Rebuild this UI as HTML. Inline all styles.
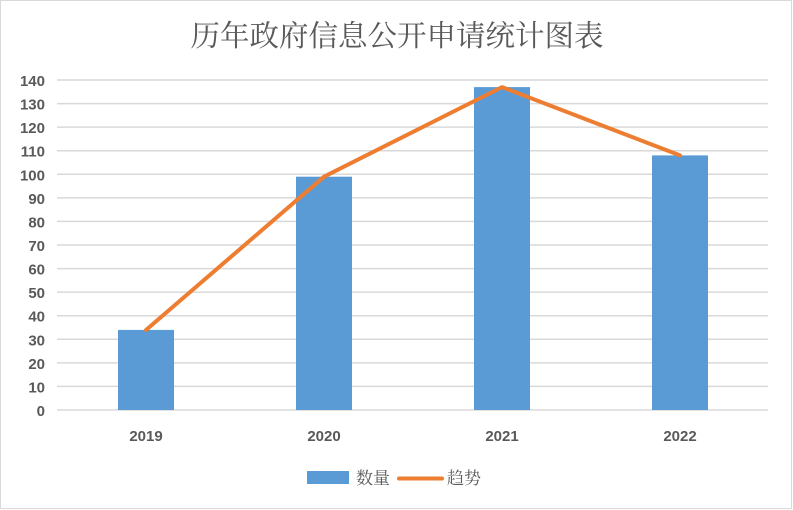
<!DOCTYPE html>
<html><head><meta charset="utf-8"><style>
body{margin:0;background:#fff}
svg{display:block}
</style></head><body>
<svg width="793" height="510" xmlns="http://www.w3.org/2000/svg">
<rect x="0.5" y="0.5" width="791" height="508" fill="#fff" stroke="#d9d9d9"/>
<text x="397" y="46" text-anchor="middle" font-family="'Noto Serif CJK SC','Noto Sans CJK SC',serif" font-size="29.5" fill="#595959">历年政府信息公开申请统计图表</text>
<g stroke="#d9d9d9" stroke-width="1.5">
<line x1="57" x2="768" y1="80" y2="80"/><line x1="57" x2="768" y1="103.6" y2="103.6"/><line x1="57" x2="768" y1="127.1" y2="127.1"/><line x1="57" x2="768" y1="150.7" y2="150.7"/><line x1="57" x2="768" y1="174.3" y2="174.3"/><line x1="57" x2="768" y1="197.9" y2="197.9"/><line x1="57" x2="768" y1="221.4" y2="221.4"/><line x1="57" x2="768" y1="245" y2="245"/><line x1="57" x2="768" y1="268.6" y2="268.6"/><line x1="57" x2="768" y1="292.1" y2="292.1"/><line x1="57" x2="768" y1="315.7" y2="315.7"/><line x1="57" x2="768" y1="339.3" y2="339.3"/><line x1="57" x2="768" y1="362.9" y2="362.9"/><line x1="57" x2="768" y1="386.4" y2="386.4"/><line x1="57" x2="768" y1="410" y2="410"/>
</g>
<g font-family="'Liberation Sans',sans-serif" font-size="15" font-weight="bold" fill="#595959" text-anchor="end">
<text x="45" y="86">140</text><text x="45" y="109.6">130</text><text x="45" y="133.1">120</text><text x="45" y="156.7">110</text><text x="45" y="180.3">100</text><text x="45" y="203.9">90</text><text x="45" y="227.4">80</text><text x="45" y="251">70</text><text x="45" y="274.6">60</text><text x="45" y="298.1">50</text><text x="45" y="321.7">40</text><text x="45" y="345.3">30</text><text x="45" y="368.9">20</text><text x="45" y="392.4">10</text><text x="45" y="416">0</text>
</g>
<g fill="#5b9bd5">
<rect x="118" y="329.9" width="56" height="80.1"/>
<rect x="296" y="176.7" width="56" height="233.3"/>
<rect x="474" y="87.1" width="56" height="322.9"/>
<rect x="652" y="155.4" width="56" height="254.6"/>
</g>
<polyline points="146,330 324,176.7 502,87.1 680,155.4" fill="none" stroke="#ed7d31" stroke-width="4" stroke-linejoin="round" stroke-linecap="round"/>
<g font-family="'Liberation Sans',sans-serif" font-size="15" font-weight="bold" fill="#595959" text-anchor="middle">
<text x="146" y="441">2019</text><text x="324" y="441">2020</text><text x="502" y="441">2021</text><text x="680" y="441">2022</text>
</g>
<rect x="307" y="471" width="42" height="13" fill="#5b9bd5"/>
<text x="356" y="484" font-family="'Noto Serif CJK SC','Noto Sans CJK SC',serif" font-size="17" fill="#595959">数量</text>
<line x1="399" x2="442" y1="478.5" y2="478.5" stroke="#ed7d31" stroke-width="4" stroke-linecap="round"/>
<text x="447" y="484" font-family="'Noto Serif CJK SC','Noto Sans CJK SC',serif" font-size="17" fill="#595959">趋势</text>
</svg>
</body></html>
